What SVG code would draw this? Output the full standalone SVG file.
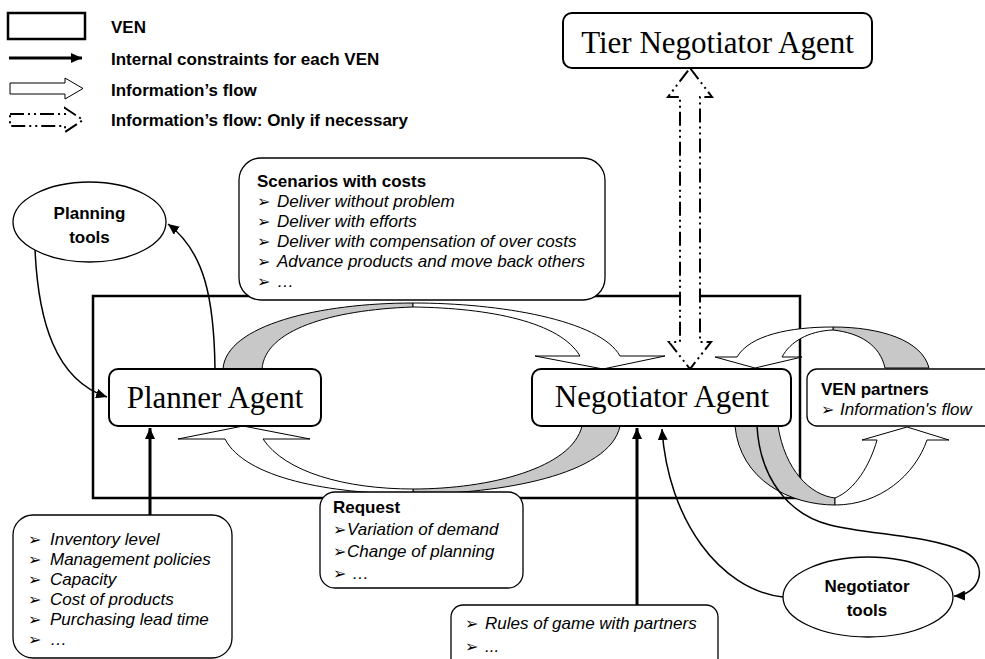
<svg xmlns="http://www.w3.org/2000/svg" width="985" height="659" viewBox="0 0 985 659">
<style>
.t{font-family:"Liberation Sans",Arial,sans-serif;font-size:17px;fill:#000}
.b{font-weight:bold}
.i{font-style:italic}
.bul{font-family:"DejaVu Sans",sans-serif;font-style:normal;font-size:16px}
.ag{font-family:"Liberation Serif","Times New Roman",serif;font-size:31px;fill:#000}
.box{fill:#fff;stroke:#000;stroke-width:1.3}
.agent{fill:#fff;stroke:#000;stroke-width:2}
.flow{fill:#fff;stroke:#000;stroke-width:1}
.grey{fill:#c8c8c8;stroke:#000;stroke-width:1}
.thin{fill:none;stroke:#000;stroke-width:1.5;marker-end:url(#ah)}
.thick{fill:none;stroke:#000;stroke-width:3;marker-end:url(#ahT)}
.dd{fill:#fff;stroke:#000;stroke-width:2;stroke-dasharray:14,4,2,4,2,4}
</style>
<defs>
<marker id="ah" markerUnits="userSpaceOnUse" markerWidth="12" markerHeight="10" refX="11" refY="5" orient="auto"><path d="M0,0 L11,5 L0,10 Z" fill="#000"/></marker>
<marker id="ahT" markerUnits="userSpaceOnUse" markerWidth="12" markerHeight="10" refX="11" refY="5" orient="auto"><path d="M0,0 L11,5 L0,10 Z" fill="#000"/></marker>
</defs>
<rect width="985" height="659" fill="#fff"/>

<g id="legend">
<rect x="8" y="13" width="77" height="26" fill="#fff" stroke="#000" stroke-width="2.5"/>
<text class="t b" x="111" y="33">VEN</text>
<line x1="9" y1="58" x2="82" y2="58" stroke="#000" stroke-width="3" marker-end="url(#ahT)"/>
<text class="t b" x="111" y="65">Internal constraints for each VEN</text>
<path class="flow" d="M10,83 L65,83 L65,78 L83,88.5 L65,99 L65,94 L10,94 Z"/>
<text class="t b" x="111" y="96">Information’s flow</text>
<path class="dd" stroke-width="1.8" d="M10,114 L65,114 L65,108 L83,120 L65,132 L65,126 L10,126 Z"/>
<text class="t b" x="111" y="126">Information’s flow:  Only if necessary</text>
</g>

<g id="ven">
<rect x="93" y="296" width="707" height="202" fill="none" stroke="#000" stroke-width="2.5"/>
</g>

<g id="connectors">
<path class="grey" d="M223,369 C226,325 320,303 413,303 L413,307 C330,310 265,330 262,369 Z"/>
<path class="flow" d="M413,303 C500,303 600,320 620,356 L665,356 L603,369 L535,356 L580,356 C560,322 490,308 413,307 Z"/>
<path class="grey" d="M620,426 C610,475 500,494 413,494 L413,489 C490,489 572,468 582,426 Z"/>
<path class="flow" d="M413,494 C330,494 245,478 225,439 L178,439 L243,426 L310,439 L263,439 C285,472 345,489 413,489 Z"/>
<path class="grey" d="M833,327 C880,327 922,340 929,368 L885,368 C880,345 860,333 833,330 Z"/>
<path class="flow" d="M833,327 C790,327 750,335 737,357 L715,357 L755,368 L802,357 L782,357 C790,342 808,331 833,330 Z"/>
<path class="grey" d="M735,426 C740,480 790,505 835,505 L835,498 C810,495 785,470 778,426 Z"/>
<path class="flow" d="M835,505 C880,505 915,475 927,440 L949,440 L907,427 L862,440 L877,440 C870,465 855,490 835,498 Z"/>
<path class="thin" d="M35,249 C38,320 55,380 107,397"/>
<path class="thin" d="M215,368 C214,300 205,252 168,224"/>
<path class="thin" d="M783,597 C720,590 668,520 662,429"/>
<path class="thin" d="M757,426 C760,480 790,515 830,525 C870,535 930,535 965,552 C990,565 980,595 954,596"/>
<path class="thick" d="M150,515 L150,428"/>
<path class="thick" d="M637,605 L637,428"/>
<path class="dd" d="M690,68 L712,97 L700,97 L700,342 L711,342 L690,369 L669,342 L680,342 L680,97 L668,97 Z"/>
</g>

<g id="tier-negotiator-agent">
<rect class="agent" x="563" y="13" width="309" height="55" rx="9"/>
<text class="ag" x="717.5" y="53" text-anchor="middle">Tier Negotiator Agent</text>
</g>

<g id="planning-tools">
<ellipse class="box" cx="89.5" cy="222" rx="76.5" ry="40"/>
<text class="t b" x="89.5" y="219" text-anchor="middle" font-size="20">Planning</text>
<text class="t b" x="89.5" y="243" text-anchor="middle" font-size="20">tools</text>
</g>

<g id="scenarios">
<rect class="box" x="239" y="158" width="366" height="142" rx="22"/>
<text class="t b" x="257" y="187">Scenarios with costs</text>
<text class="t i" x="257" y="207"><tspan class="bul">➢</tspan><tspan x="277">Deliver without problem</tspan></text>
<text class="t i" x="257" y="227"><tspan class="bul">➢</tspan><tspan x="277">Deliver with efforts</tspan></text>
<text class="t i" x="257" y="247"><tspan class="bul">➢</tspan><tspan x="277">Deliver with compensation of over costs</tspan></text>
<text class="t i" x="257" y="267"><tspan class="bul">➢</tspan><tspan x="277">Advance products and move back others</tspan></text>
<text class="t i" x="257" y="287"><tspan class="bul">➢</tspan><tspan x="277">…</tspan></text>
</g>

<g id="planner-agent">
<rect class="agent" x="109" y="369" width="212" height="57" rx="9"/>
<text class="ag" x="215" y="408" text-anchor="middle">Planner Agent</text>
</g>

<g id="negotiator-agent">
<rect class="agent" x="532" y="369" width="259" height="57" rx="9"/>
<text class="ag" x="662" y="407" text-anchor="middle">Negotiator Agent</text>
</g>

<g id="ven-partners">
<rect class="box" x="807" y="369" width="190" height="57" rx="10"/>
<text class="t b" x="821" y="395">VEN partners</text>
<text class="t i" x="821" y="415"><tspan class="bul">➢</tspan><tspan x="840">Information's flow</tspan></text>
</g>

<g id="internal-data">
<rect class="box" x="13" y="515" width="219" height="143" rx="20"/>
<text class="t i" x="28" y="545"><tspan class="bul">➢</tspan><tspan x="50">Inventory level</tspan></text>
<text class="t i" x="28" y="565"><tspan class="bul">➢</tspan><tspan x="50">Management policies</tspan></text>
<text class="t i" x="28" y="585"><tspan class="bul">➢</tspan><tspan x="50">Capacity</tspan></text>
<text class="t i" x="28" y="605"><tspan class="bul">➢</tspan><tspan x="50">Cost of products</tspan></text>
<text class="t i" x="28" y="625"><tspan class="bul">➢</tspan><tspan x="50">Purchasing lead time</tspan></text>
<text class="t i" x="28" y="645"><tspan class="bul">➢</tspan><tspan x="50">…</tspan></text>
</g>

<g id="request">
<rect class="box" x="320" y="492" width="203" height="96" rx="15"/>
<text class="t b" x="333" y="513">Request</text>
<text class="t i" x="333" y="535"><tspan class="bul">➢</tspan><tspan x="347">Variation of demand</tspan></text>
<text class="t i" x="333" y="557"><tspan class="bul">➢</tspan><tspan x="347">Change of planning</tspan></text>
<text class="t i" x="333" y="579"><tspan class="bul">➢</tspan><tspan x="352">…</tspan></text>
</g>

<g id="rules">
<rect class="box" x="451" y="605" width="267" height="70" rx="12"/>
<text class="t i" x="465" y="629"><tspan class="bul">➢</tspan><tspan x="485">Rules of game with partners</tspan></text>
<text class="t i" x="465" y="652"><tspan class="bul">➢</tspan><tspan x="485">...</tspan></text>
</g>

<g id="negotiator-tools">
<ellipse class="box" cx="868" cy="597" rx="85" ry="40"/>
<text class="t b" x="867" y="592" text-anchor="middle" font-size="19.5">Negotiator</text>
<text class="t b" x="867" y="616" text-anchor="middle" font-size="19.5">tools</text>
</g>
</svg>
